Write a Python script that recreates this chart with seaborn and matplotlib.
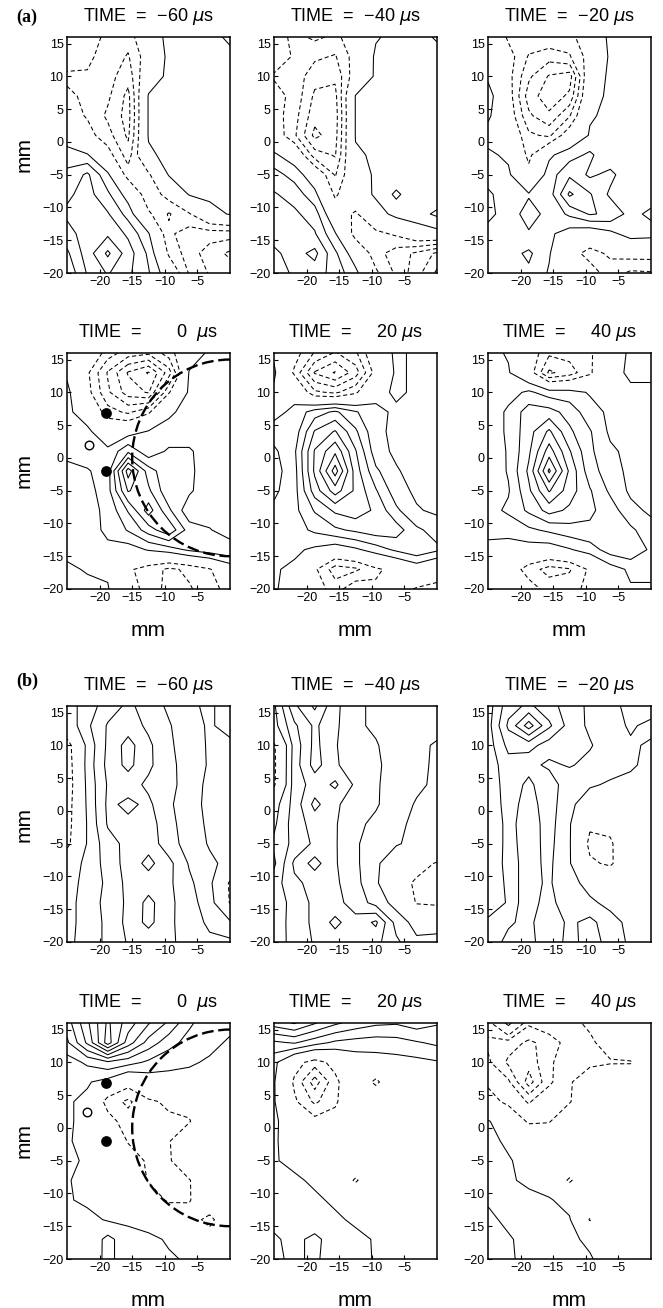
import numpy as np
import matplotlib
matplotlib.use("Agg")
import matplotlib.pyplot as plt
from matplotlib.patches import Arc
import seaborn as sns

# grid nodes of the measured fields (mm)
grid_x = [-25, -21.875, -18.75, -15.625, -12.5, -9.375, -6.25, -3.125, 0]
grid_y = [16, 13, 10, 7, 4, 1, -2, -5, -8, -11, -14, -17, -20]

# (a) fields, rows from y = 16 down to y = -20
a_m60 = [
    [-0.3, -0.6, -1.2, -1.6, 0.3, 1.3, 1.4, 1.5, 2.3],
    [-0.4, -0.8, -1.4, -2.1, -0.3, 1.3, 1.4, 1.5, 1.6],
    [-1.2, -1.1, -1.6, -2.6, 0.2, 1.3, 1.4, 1.4, 1.4],
    [-0.8, -1.2, -1.8, -3.3, 1.1, 1.3, 1.4, 1.4, 1.4],
    [-0.5, -1.1, -2.2, -3.4, 1.1, 1.3, 1.4, 1.4, 1.4],
    [0.2, -0.6, -1.6, -3.2, 1.1, 1.3, 1.4, 1.4, 1.4],
    [1.6, 1.1, -0.5, -2.5, 0.8, 1.3, 1.4, 1.4, 1.4],
    [2.2, 3.2, 1.2, -1.5, -1.2, 1.1, 1.3, 1.4, 1.4],
    [2.8, 3.4, 2.2, 0.5, -1.8, -0.5, 1.1, 1.3, 1.3],
    [3.2, 3.4, 3.1, 1.6, -0.8, -2.1, -1.1, 0.5, 1.1],
    [2.6, 3.5, 3.8, 2.8, 1.1, -1.8, -2.5, -2.5, -2.5],
    [1.8, 3.5, 5.2, 3.5, 1.8, -1.2, -2.5, -3.5, -4.2],
    [1.2, 3.1, 4.1, 3.2, 2.1, 0.2, -2.1, -3.1, -3.5],
]
a_m40 = [
    [-0.4, -1.3, -0.8, -1.2, -0.5, 0.9, 1.3, 1.4, 2.2],
    [-0.5, -1.1, -1.8, -2.1, -0.5, 1.2, 1.3, 1.4, 1.4],
    [-1.1, -1.4, -2.6, -2.8, -0.3, 1.2, 1.3, 1.3, 1.3],
    [-0.6, -1.3, -3.2, -3.3, 1.05, 1.2, 1.3, 1.3, 1.3],
    [-0.5, -1.6, -3.6, -3.5, 1.05, 1.2, 1.3, 1.3, 1.3],
    [-0.2, -1.8, -4.3, -3.4, 1.05, 1.2, 1.3, 1.3, 1.3],
    [1.2, 0.3, -2.5, -3.1, 0.9, 1.1, 1.3, 1.3, 1.3],
    [2.4, 1.6, 0.2, -2.1, 0.3, 1.2, 1.3, 1.3, 1.3],
    [3.1, 2.6, 1.3, -1.2, 0.2, 1.2, 2.2, 1.3, 1.3],
    [3.3, 3.2, 2.5, -0.2, -1.2, 0.4, 1.4, 1.6, 2.2],
    [3.6, 3.4, 3.1, 1.1, -1.5, -1.3, -0.8, 0.3, 0.6],
    [4.2, 3.6, 4.3, 2.2, 0.3, -1.6, -2.5, -3.2, -4.2],
    [4.6, 3.8, 3.5, 2.6, 1.3, -0.8, -2.2, -3.6, -5.2],
]
a_m20 = [
    [0.5, -1.2, -1.3, -1.2, -1.5, 0.2, 1.2, 1.3, 1.4],
    [0.6, -0.5, -2.1, -2.6, -2.1, -0.5, 1.2, 1.3, 1.3],
    [0.8, -0.6, -2.8, -4.1, -4.5, 0.3, 1.2, 1.3, 1.3],
    [1.5, -0.4, -3.5, -4.6, -3.8, 0.6, 1.2, 1.3, 1.3],
    [1.2, -0.2, -2.8, -3.8, -2.1, 0.9, 1.2, 1.3, 1.3],
    [0.6, 0.3, -1.8, -2.2, -0.2, 1.1, 1.2, 1.3, 1.3],
    [1.2, 0.8, -1.3, 0.8, 1.6, 2.2, 1.2, 1.3, 1.3],
    [1.5, 1.2, -0.6, 1.5, 2.8, 1.8, 2.3, 1.2, 1.3],
    [2.2, 1.4, 1.1, 1.5, 4.2, 3.1, 1.8, 1.3, 1.3],
    [2.3, 1.5, 0.6, 1.3, 2.2, 3.1, 2.8, 1.6, 2.3],
    [1.6, 1.7, 1.1, 1.2, 0.5, 0.1, 0.7, 1.5, 1.4],
    [1.3, 1.6, 2.2, 1.1, -0.5, -1.4, -0.8, -0.5, -0.5],
    [1.2, 1.6, 1.8, 0.9, -0.3, -0.5, -1.5, -2.2, -2.1],
]
a_0 = [
    [0.5, 0.3, -1.5, -2.5, -2.8, -1.5, 0.3, 1.2, 1.3],
    [0.8, -0.8, -3.1, -5.1, -6.1, -3.5, 1.1, 1.2, 1.3],
    [1.3, -0.6, -2.8, -4.5, -5.1, -1.1, 1.2, 1.2, 1.3],
    [1.2, 0.5, -1.6, -2.2, -1.2, 0.9, 1.2, 1.2, 1.3],
    [1.1, 1.2, 0.3, 0.5, 1.1, 1.2, 1.2, 1.2, 1.2],
    [1.2, 1.6, 1.2, 2.8, 1.3, 2.2, 2.2, 1.2, 1.2],
    [0.8, 0.9, 1.5, 6.5, 3.5, 2.2, 2.3, 1.2, 1.2],
    [0.5, 0.6, 1.6, 5.1, 4.2, 2.2, 2.2, 1.2, 1.2],
    [0.6, 0.7, 1.2, 3.1, 5.5, 3.2, 1.3, 1.2, 1.2],
    [0.7, 0.8, 1.1, 2.1, 3.5, 4.8, 2.5, 2.1, 1.2],
    [0.7, 0.7, 0.9, 0.5, 1.1, 1.5, 2.2, 2.6, 2.9],
    [1.2, 0.9, 0.8, -0.8, -1.5, -2.2, -1.8, -1.1, 0.2],
    [1.5, 1.3, 1.1, -0.6, -1.3, -2.4, -2.1, -1.5, -0.5],
]
a_20 = [
    [0.8, -0.5, -2.1, -3.1, -2.2, 0.2, 1.2, 0.8, 0.6],
    [1.2, -1.2, -4.1, -5.1, -3.5, -0.5, 1.2, 0.8, 0.6],
    [0.8, 0.5, -1.8, -2.2, -1.2, 0.6, 1.2, 0.8, 0.6],
    [0.6, 1.3, 2.5, 3.2, 2.1, 1.3, 0.8, 0.6, 0.6],
    [1.5, 1.4, 4.1, 5.1, 3.2, 1.2, 0.8, 0.6, 0.6],
    [0.8, 1.8, 5.1, 6.8, 4.1, 1.4, 0.8, 0.6, 0.6],
    [0.6, 1.6, 5.2, 8.5, 4.5, 2.2, 1.1, 0.6, 0.6],
    [0.8, 1.6, 4.5, 6.5, 4.8, 3.1, 1.4, 0.8, 0.6],
    [1.2, 1.7, 3.1, 4.2, 4.6, 3.8, 2.2, 1.1, 0.8],
    [1.3, 1.6, 2.2, 2.8, 3.2, 3.6, 3.5, 2.2, 1.6],
    [1.3, 1.2, 0.8, 0.3, 0.8, 1.5, 2.2, 2.8, 2.2],
    [1.1, 0.8, -0.8, -2.5, -2.2, -1.2, -0.6, 0.2, -0.6],
    [1.1, 0.6, -0.4, -1.5, -0.2, -0.8, -0.5, -1.1, -1.2],
]
a_40 = [
    [1.3, 0.9, -0.2, -1.8, -1.6, -1.2, 0.3, 1.2, 1.2],
    [1.2, 1.1, -0.3, -3.2, -2.5, -1.2, 0.6, 1.2, 1.2],
    [1.3, 1.6, 2.2, 1.5, 1.4, 0.9, 0.8, 0.8, 0.8],
    [1.3, 2.2, 3.5, 3.4, 2.6, 1.4, 0.8, 0.7, 0.7],
    [1.3, 2.2, 3.6, 5.2, 3.2, 2.1, 0.8, 0.7, 0.7],
    [1.3, 2.1, 3.8, 6.5, 4.1, 2.2, 1.2, 0.7, 0.7],
    [1.2, 2.1, 4.2, 8.2, 4.8, 2.4, 1.5, 0.7, 0.7],
    [1.3, 1.9, 3.8, 6.1, 4.5, 3.1, 1.8, 0.8, 0.7],
    [1.6, 2.2, 3.2, 4.4, 3.8, 3.2, 2.5, 1.3, 0.8],
    [1.2, 1.3, 1.8, 2.2, 2.6, 2.8, 2.6, 2.2, 1.4],
    [0.8, 0.6, 0.5, 0.4, 0.9, 1.5, 2.5, 2.8, 1.8],
    [0.8, -0.2, -1.5, -2.4, -2.1, -0.8, 0.5, 1.2, 1.2],
    [0.8, 0.2, -0.5, -1.4, -1.5, -0.6, 0.4, 0.9, 0.9],
]

# (b) fields
b_m60 = [
    [0.5, 1.5, 2.5, 3.2, 2.6, 1.8, 1.2, 0.8, 1.6],
    [0.2, 1.8, 3.1, 3.5, 2.8, 2.1, 1.3, 0.9, 1.3],
    [-1.6, 1.3, 3.2, 4.4, 3.2, 2.2, 1.4, 0.9, 0.8],
    [-1.8, 1.4, 3.3, 4.3, 3.2, 2.3, 1.5, 0.9, 0.7],
    [-1.9, 1.3, 3.1, 3.4, 2.8, 2.4, 1.4, 0.8, 0.7],
    [-1.7, 1.2, 3.2, 2.8, 3.2, 2.2, 1.3, 0.8, 0.7],
    [-1.6, 1.1, 3.1, 3.2, 3.5, 2.3, 1.5, 0.8, 0.7],
    [-1.4, 1.1, 2.6, 3.3, 3.6, 2.4, 1.6, 0.9, 0.8],
    [0.3, 1.3, 2.4, 3.4, 4.3, 3.3, 1.9, 1.2, 0.7],
    [0.5, 1.4, 2.2, 3.3, 3.5, 3.2, 2.2, 1.3, -1.2],
    [0.6, 1.5, 2.3, 3.2, 4.3, 3.3, 2.3, 1.6, -1.1],
    [0.6, 1.5, 2.2, 3.3, 4.3, 3.2, 2.5, 1.8, 1.2],
    [0.7, 1.5, 2.2, 3.1, 3.3, 3.2, 2.6, 2.2, 2.2],
]
b_m40 = [
    [0.8, 3.8, 5.2, 3.2, 2.4, 1.6, 1.2, 1.1, 1.2],
    [0.6, 2.8, 4.2, 3.2, 2.2, 1.8, 1.3, 1.6, 1.3],
    [-1.2, 2.4, 4.3, 3.1, 2.2, 2.1, 1.4, 1.2, 0.9],
    [-1.3, 2.5, 4.4, 3.2, 2.2, 2.2, 1.5, 1.3, 0.8],
    [-1.2, 2.5, 3.4, 4.2, 2.8, 2.1, 1.6, 1.2, 0.8],
    [0.5, 2.4, 4.3, 3.2, 2.4, 2.1, 1.5, 0.9, 0.7],
    [0.8, 2.5, 3.4, 3.1, 2.2, 1.8, 1.2, 0.8, 0.6],
    [1.2, 2.3, 3.2, 3.1, 2.1, 1.6, 1.1, 0.7, 0.5],
    [0.8, 3.2, 4.4, 3.1, 2.2, 1.2, 0.2, -0.5, -1.1],
    [1.5, 2.8, 3.3, 3.2, 2.3, 1.2, -0.4, -1.2, -1.2],
    [1.2, 2.5, 3.2, 3.3, 2.6, 1.6, 0.6, -1.1, -1.2],
    [1.3, 2.5, 3.2, 4.3, 3.3, 4.2, 1.6, 0.6, 0.3],
    [1.4, 2.4, 3.1, 3.4, 3.2, 3.3, 2.2, 1.2, 1.5],
]
b_m20 = [
    [1.5, 3.6, 4.2, 3.4, 2.5, 1.8, 1.2, 0.8, 0.6],
    [1.6, 4.2, 6.5, 4.2, 2.6, 1.8, 1.3, 0.9, 1.2],
    [1.5, 3.3, 3.4, 2.5, 2.8, 2.1, 1.4, 1.1, 0.9],
    [1.4, 2.6, 2.3, 1.8, 2.1, 1.7, 1.3, 1.1, 0.8],
    [1.3, 2.5, 1.8, 2.6, 1.3, 1.1, 0.9, 0.8, 0.7],
    [1.3, 2.4, 1.6, 2.5, 1.2, 0.5, 0.5, 0.6, 0.6],
    [1.2, 2.3, 1.5, 2.4, 1.1, -0.8, -0.6, 0.4, 0.5],
    [1.2, 2.3, 1.6, 2.3, 1.1, -1.3, -1.2, 0.3, 0.5],
    [1.3, 2.3, 1.7, 2.2, 1.1, -0.8, -1.2, 0.2, 0.4],
    [1.3, 2.2, 1.8, 2.1, 1.4, 0.6, 0.3, 0.2, 0.3],
    [1.4, 2.1, 1.9, 2.1, 1.8, 1.2, 0.7, 0.4, 0.3],
    [2.2, 2.1, 1.8, 2.6, 1.8, 2.3, 1.4, 0.7, 0.4],
    [2.4, 1.8, 1.6, 2.8, 1.6, 2.5, 1.6, 0.8, 0.5],
]
b_0 = [
    [3.5, 5.8, 8.2, 6.5, 5.1, 3.8, 2.2, 1.3, 1.2],
    [2.8, 5.2, 8.5, 5.5, 3.6, 2.4, 1.6, 1.2, 0.9],
    [1.5, 2.2, 2.8, 2.4, 1.8, 1.3, 1.1, 0.9, 0.7],
    [1.2, 1.1, 0.6, -0.5, 0.3, 0.6, 0.7, 0.7, 0.6],
    [1.1, 0.8, -1.5, -2.2, -1.2, -0.8, -0.5, 0.4, 0.5],
    [1.1, 0.8, -0.5, -1.6, -1.4, -1.2, -1.1, 0.3, 0.5],
    [1.1, 0.7, 0.5, -1.1, -1.3, -1.1, 0.3, 0.5, 0.5],
    [1.6, 0.6, 0.6, -0.3, -1.2, -1.2, 0.4, 0.5, 0.5],
    [1.1, 0.6, 0.6, 0.2, -1.1, -1.2, -1.1, 0.5, 0.5],
    [1.1, 0.8, 0.7, 0.4, -0.2, -1.2, -1.1, 0.2, 0.5],
    [1.1, 1.3, 0.9, 0.8, 0.6, 0.3, -0.4, -1.4, 0.3],
    [1.6, 1.2, 2.3, 1.4, 1.2, 0.9, 0.5, -0.3, 0.4],
    [1.4, 1.5, 2.2, 1.6, 1.3, 1.1, 0.9, 0.6, 0.5],
]
b_20 = [
    [5.5, 6.1, 5.1, 4.2, 3.6, 3.2, 3.1, 3.5, 3.1],
    [2.8, 3.1, 2.4, 1.8, 1.6, 1.5, 1.6, 1.9, 2.2],
    [1.3, -0.5, -1.5, -0.6, 0.3, 0.5, 0.6, 0.7, 0.9],
    [1.1, -1.2, -3.5, -1.3, 0.2, -1.3, 0.4, 0.6, 0.7],
    [1.1, -0.8, -2.2, -1.2, 0.3, 0.4, 0.5, 0.6, 0.6],
    [1.2, 0.3, -0.6, -0.5, 0.4, 0.5, 0.5, 0.5, 0.5],
    [1.1, 0.6, 0.5, 0.5, 0.5, 0.5, 0.5, 0.5, 0.5],
    [1.1, 0.7, 0.6, 0.5, 0.5, 0.5, 0.5, 0.5, 0.5],
    [1.4, 1.2, 0.8, 0.5, -1.2, 0.4, 0.5, 0.5, 0.5],
    [1.6, 1.4, 1.2, 0.8, 0.6, 0.5, 0.5, 0.5, 0.5],
    [1.8, 1.6, 1.5, 1.2, 0.8, 0.6, 0.5, 0.5, 0.5],
    [2.1, 1.8, 2.2, 1.6, 1.3, 0.9, 0.6, 0.5, 0.5],
    [2.1, 1.9, 2.1, 1.7, 1.4, 0.9, 0.6, 0.5, 0.5],
]
b_40 = [
    [-1.5, 1.5, -1.8, -1.2, -1.3, -0.8, 0.3, 0.4, 0.4],
    [-2.2, -2.5, -3.2, -2.6, -1.5, -1.2, -0.5, 0.3, 0.4],
    [-1.8, -3.2, -3.6, -2.2, -1.3, -1.2, -1.1, -1.1, 0.3],
    [-1.2, -1.8, -4.5, -2.2, -1.1, -0.4, 0.2, 0.3, 0.3],
    [-0.5, -1.3, -2.1, -1.2, -1.1, 0.2, 0.3, 0.3, 0.3],
    [1.1, 0.2, -1.2, -1.1, 0.2, 0.3, 0.3, 0.3, 0.3],
    [1.3, 0.8, 0.4, 0.3, 0.3, 0.3, 0.3, 0.3, 0.3],
    [1.6, 1.1, 0.6, 0.4, 0.3, 0.3, 0.3, 0.3, 0.3],
    [1.8, 1.2, 0.7, 0.4, -1.2, 0.3, 0.3, 0.3, 0.3],
    [1.9, 1.6, 1.4, 1.1, 0.6, 0.3, 0.3, 0.3, 0.3],
    [2.2, 1.8, 1.6, 1.3, 1.1, -1.1, 0.3, 0.3, 0.3],
    [2.5, 2.1, 1.7, 1.5, 1.2, 0.8, 0.4, 0.3, 0.3],
    [2.6, 2.1, 1.8, 1.6, 1.3, 1.1, 0.5, 0.3, 0.3],
]

contour_levels = [-6, -5, -4, -3, -2, -1, 1, 2, 3, 4, 5, 6, 7, 8]
time_labels = ["TIME  =  \u221260 $\\mu$s", "TIME  =  \u221240 $\\mu$s", "TIME  =  \u221220 $\\mu$s",
               "TIME  =       0  $\\mu$s", "TIME  =     20 $\\mu$s", "TIME  =     40 $\\mu$s"]
x_ticks = [-20, -15, -10, -5]
y_ticks = [-20, -15, -10, -5, 0, 5, 10, 15]

# probe positions and cavity outline at t = 0
probe_x = [-19, -19]
probe_y = [6.8, -2.0]
hole_a = ([-21.7], [2.0])
hole_b = ([-21.9], [2.5])
arc_radius = 15

# layout in pixels
W, H = 663, 1308
col_left = [67, 274, 488]
row_top = [37, 353, 706, 1023]
pw, ph = 163, 236

sns.set_style("ticks")
plt.rcParams['font.family'] = ['Liberation Sans', 'DejaVu Sans']
plt.rcParams['lines.dashed_pattern'] = [4.0, 2.6]
for key in ['text.color', 'axes.labelcolor', 'xtick.color', 'ytick.color', 'axes.edgecolor']:
    plt.rcParams[key] = 'black'

fig = plt.figure(figsize=(W / 100, H / 100), dpi=100)
X, Y = np.meshgrid(grid_x, grid_y)

fields = [a_m60, a_m40, a_m20, a_0, a_20, a_40,
          b_m60, b_m40, b_m20, b_0, b_20, b_40]
styles = ['dashed' if lv < 0 else 'solid' for lv in contour_levels]

for i, field in enumerate(fields):
    row, col = i // 3, i % 3
    left = col_left[col]
    top = row_top[row]
    ax = fig.add_axes([left / W, 1 - (top + ph) / H, pw / W, ph / H])
    ax.contour(X, Y, np.array(field), levels=contour_levels, colors='black',
               linewidths=0.75, linestyles=styles)
    ax.set_xlim(-25, 0)
    ax.set_ylim(-20, 16)
    ax.set_xticks(x_ticks)
    ax.set_yticks(y_ticks)
    ax.tick_params(direction='in', length=3, width=0.8, labelsize=9, pad=2.5,
                   colors='black')
    for sp in ax.spines.values():
        sp.set_linewidth(1.1)
        sp.set_color('black')
    ax.set_xlabel('')
    ax.set_ylabel('')

    if i % 6 == 3:
        # probes, hole and the cavity circle
        sns.scatterplot(x=probe_x, y=probe_y, ax=ax, color='black', s=60,
                        linewidth=0, zorder=5, legend=False)
        hx, hy = hole_a if i == 3 else hole_b
        ax.scatter(hx, hy, s=38, facecolors='white', edgecolors='black',
                   linewidths=1.0, zorder=5)
        ax.add_patch(Arc((0, 0), 2 * arc_radius, 2 * arc_radius, theta1=90, theta2=270,
                         color='black', lw=1.7, linestyle=(0, (5, 2)), zorder=4))

    fig.text((left + pw / 2) / W, 1 - (top - 16) / H, time_labels[i % 6],
             ha='center', va='baseline', fontsize=13, color='black')
    if col == 0:
        fig.text(24 / W, 1 - (top + ph / 2) / H, 'mm', rotation=90,
                 ha='center', va='center', fontsize=15, color='black')
    if row in (1, 3):
        fig.text((left + pw / 2) / W, 1 - (top + ph + 47) / H, 'mm',
                 ha='center', va='baseline', fontsize=15, color='black')

fig.text(16 / W, 1 - 22 / H, '(a)', family='Liberation Serif', weight='bold',
         fontsize=13, va='baseline', color='black')
fig.text(16 / W, 1 - 686 / H, '(b)', family='Liberation Serif', weight='bold',
         fontsize=13, va='baseline', color='black')

fig.savefig('out.png', dpi=100)
